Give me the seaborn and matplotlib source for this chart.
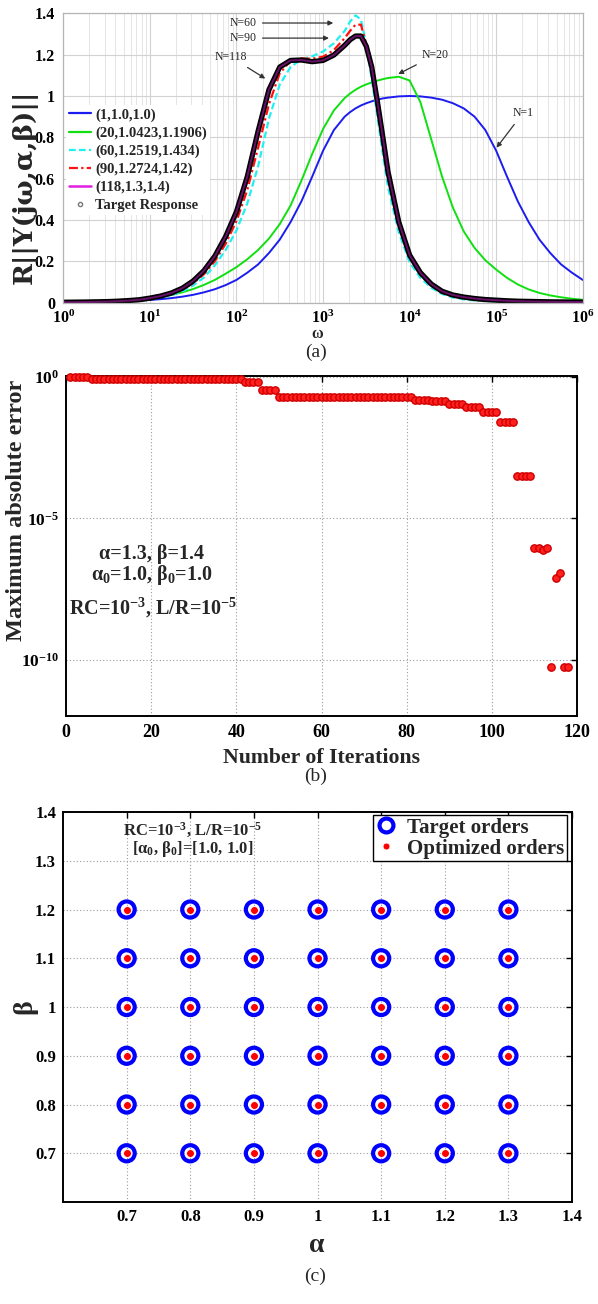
import numpy as np
import pandas as pd
import seaborn as sns
import matplotlib.pyplot as plt
from matplotlib.lines import Line2D
from matplotlib.ticker import LogLocator, NullLocator, FixedLocator, FixedFormatter, NullFormatter

# ---------------- PANEL (a) : |Y(jw)| (x given as log10 of omega)
log_w = [0, 0.125, 0.25, 0.375, 0.5, 0.625, 0.75, 0.875, 1.0, 1.125, 1.25, 1.375, 1.5, 1.625,
         1.75, 1.875, 2.0, 2.125, 2.25, 2.375, 2.5, 2.625, 2.75, 2.875, 3.0, 3.125, 3.25,
         3.3125, 3.375, 3.4375, 3.5, 3.5625, 3.625, 3.6875, 3.75, 3.875, 4.0, 4.125, 4.25,
         4.375, 4.5, 4.625, 4.75, 4.875, 5.0, 5.125, 5.25, 5.375, 5.5, 5.625, 5.75, 5.875, 6.0]

resp_n1 = [0.0015, 0.002, 0.0027, 0.0035, 0.0045, 0.006, 0.008, 0.010, 0.013, 0.017, 0.022, 0.029,
           0.038, 0.050, 0.065, 0.085, 0.11, 0.145, 0.185, 0.24, 0.305, 0.39, 0.49, 0.61, 0.735,
           0.835, 0.90,
           0.922, 0.94, 0.954, 0.965, 0.974, 0.982, 0.988, 0.992,
           0.998, 1.0, 0.998, 0.992, 0.982, 0.965, 0.94, 0.90, 0.835, 0.735, 0.61, 0.49, 0.39,
           0.305, 0.24, 0.185, 0.145, 0.11]

resp_n20 = [0.002, 0.0025, 0.0035, 0.0045, 0.006, 0.008, 0.011, 0.015, 0.020, 0.028, 0.037, 0.050,
            0.066, 0.086, 0.110, 0.140, 0.172, 0.21, 0.255, 0.31, 0.38, 0.47, 0.59, 0.72, 0.84,
            0.93, 0.99,
            1.012, 1.03, 1.045, 1.056, 1.066, 1.074, 1.081, 1.087,
            1.093, 1.075, 0.97, 0.79, 0.61, 0.46, 0.345, 0.265, 0.205, 0.16, 0.12, 0.088, 0.064,
            0.047, 0.035, 0.026, 0.019, 0.014]

resp_n60 = [0.002, 0.0024, 0.0029, 0.0036, 0.0045, 0.006, 0.0085, 0.012, 0.017, 0.025, 0.036, 0.055,
            0.083, 0.122, 0.18, 0.255, 0.35, 0.48, 0.66, 0.89, 1.055, 1.14, 1.178, 1.192, 1.215,
            1.255, 1.315,
            1.36, 1.39, 1.37, 1.25, 1.08, 0.91, 0.73, 0.56,
            0.34, 0.195, 0.12, 0.072, 0.042, 0.025, 0.016, 0.011, 0.009, 0.007, 0.006, 0.005,
            0.004, 0.0035, 0.003, 0.0025, 0.002, 0.002]

resp_n90 = [0.002, 0.0025, 0.003, 0.0038, 0.0048, 0.0065, 0.009, 0.013, 0.019, 0.028, 0.042, 0.063,
            0.094, 0.138, 0.20, 0.285, 0.395, 0.545, 0.75, 0.96, 1.11, 1.17, 1.182, 1.18, 1.19,
            1.222, 1.28,
            1.315, 1.345, 1.345, 1.25, 1.12, 0.95, 0.78, 0.605,
            0.37, 0.215, 0.135, 0.082, 0.048, 0.03, 0.02, 0.014, 0.011, 0.009, 0.007, 0.006,
            0.005, 0.004, 0.0035, 0.003, 0.0025, 0.002]

target_resp = [0.002, 0.0025, 0.003, 0.004, 0.005, 0.007, 0.010, 0.014, 0.022, 0.032, 0.047, 0.07,
               0.105, 0.155, 0.225, 0.32, 0.44, 0.61, 0.83, 1.03, 1.14, 1.172, 1.174, 1.166, 1.172,
               1.198, 1.245,
               1.272, 1.29, 1.29, 1.24, 1.14, 0.98, 0.81, 0.634,
               0.39, 0.23, 0.145, 0.09, 0.055, 0.037, 0.027, 0.02, 0.015, 0.012, 0.009, 0.007,
               0.006, 0.005, 0.004, 0.0035, 0.003, 0.0025]

resp_n118 = list(target_resp)     # N=118 SITS ON TOP OF THE TARGET

legend_a = ["(1,1.0,1.0)", "(20,1.0423,1.1906)", "(60,1.2519,1.434)", "(90,1.2724,1.42)",
            "(118,1.3,1.4)", "Target Response"]

# ---------------- PANEL (b) : MAX ABS ERROR PER ITERATION (step levels + how many iterations each)
err_levels = [1.0, 0.85, 0.65, 0.34, 0.2, 0.16, 0.14, 0.11, 0.085, 0.056, 0.025, 3.1e-4,
              9e-7, 9e-7, 7.4e-7, 9e-7, 5.4e-11, 7.9e-8, 1.2e-7, 5.4e-11, 5.4e-11]
err_counts = [5, 36, 4, 4, 32, 4, 4, 4, 4, 4, 4, 4, 1, 1, 1, 1, 1, 1, 1, 1, 1]

# ---------------- PANEL (c) : TARGET / OPTIMIZED ORDERS
alpha_vals = [0.7, 0.8, 0.9, 1.0, 1.1, 1.2, 1.3]
beta_vals = [0.7, 0.8, 0.9, 1.0, 1.1, 1.2]
opt_alpha = [0.7, 0.8, 0.9, 1.0, 1.1, 1.2, 1.3]
opt_beta = [0.7, 0.8, 0.9, 1.0, 1.1, 1.2]
ticks_c = [0.7, 0.8, 0.9, 1.0, 1.1, 1.2, 1.3, 1.4]
ticklabels_c = ["0.7", "0.8", "0.9", "1", "1.1", "1.2", "1.3", "1.4"]


sns.set_theme(style="white")
plt.rcParams["font.family"] = ["Liberation Serif", "DejaVu Serif"]
plt.rcParams["font.weight"] = "bold"
plt.rcParams["axes.labelweight"] = "bold"
plt.rcParams["mathtext.fontset"] = "custom"
plt.rcParams["mathtext.rm"] = "Liberation Serif:bold"
plt.rcParams["mathtext.bf"] = "Liberation Serif:bold"
plt.rcParams["mathtext.it"] = "Liberation Serif:bold"
plt.rcParams["mathtext.default"] = "bf"
plt.rcParams["axes.unicode_minus"] = False

fig = plt.figure(figsize=(5.98, 13.04), dpi=100)


#                                   (a)  FREQUENCY RESPONSE
omega = 10 ** np.array(log_w)
ax1 = fig.add_axes([0.1059, 0.7679, 0.8686, 0.2219])

sns.lineplot(x=omega, y=resp_n1, ax=ax1, color="#1c1cf0", lw=1.4, sort=False)
sns.lineplot(x=omega, y=resp_n20, ax=ax1, color="#10e010", lw=1.4, sort=False)
sns.lineplot(x=omega, y=resp_n60, ax=ax1, color="#20f0f0", lw=1.6, linestyle=(0, (3, 1.5)), sort=False)
sns.lineplot(x=omega, y=resp_n90, ax=ax1, color="#ff1010", lw=1.6, linestyle=(0, (4, 1.5, 1, 1.5)), sort=False)
sns.lineplot(x=omega, y=target_resp, ax=ax1, color="black", lw=3.8, sort=False)
sns.lineplot(x=omega, y=resp_n118, ax=ax1, color="#d020d0", lw=1.4, alpha=0.5, sort=False)

ax1.set_xscale("log")
ax1.set_xlim(1, 1e6)
ax1.set_ylim(0, 1.4)
ax1.xaxis.set_major_locator(FixedLocator([1e0, 1e1, 1e2, 1e3, 1e4, 1e5, 1e6]))
ax1.xaxis.set_minor_locator(LogLocator(base=10, subs=np.arange(2, 10), numticks=100))
ax1.xaxis.set_minor_formatter(NullFormatter())
ax1.yaxis.set_major_locator(FixedLocator([0, 0.2, 0.4, 0.6, 0.8, 1.0, 1.2, 1.4]))
ax1.yaxis.set_major_formatter(FixedFormatter(["0", "0.2", "0.4", "0.6", "0.8", "1", "1.2", "1.4"]))
ax1.grid(which="major", color="#d2d2d2", lw=0.8)
ax1.grid(which="minor", axis="x", color="#e0e0e0", lw=0.6)
for s in ax1.spines.values():
    s.set_color("#b5b5b5")
    s.set_linewidth(0.9)
ax1.tick_params(axis="both", which="major", labelsize=11.5, length=0, pad=6, colors="black")
ax1.tick_params(axis="x", which="major", pad=5)
ax1.tick_params(axis="both", which="minor", length=0, labelbottom=False, labelleft=False)
ax1.set_ylabel("R||Y(jω,α,β)||", fontsize=19, fontweight="bold", family="DejaVu Serif")
ax1.yaxis.set_label_coords(-0.05, 0.40)
ax1.set_xlabel("ω", fontsize=11.5, fontweight="bold")
ax1.xaxis.set_label_coords(0.488, -0.079)

handles_a = [Line2D([], [], color="#1c1cf0", lw=1.6),
             Line2D([], [], color="#10e010", lw=1.6),
             Line2D([], [], color="#20f0f0", lw=1.6, linestyle=(0, (3, 1.5))),
             Line2D([], [], color="#ff1010", lw=1.6, linestyle=(0, (4, 1.5, 1, 1.5))),
             Line2D([], [], color="#e020e0", lw=1.8),
             Line2D([], [], color="#777777", marker="o", ms=3, mfc="none", lw=0)]
ax1.legend(handles_a, legend_a, loc="upper left", bbox_to_anchor=(0.005, 0.682), fontsize=10.5,
           frameon=True, facecolor="white", edgecolor="none", framealpha=1, fancybox=False,
           borderpad=0.2, handlelength=1.5, handletextpad=0.3, labelspacing=0.32, borderaxespad=0)

arrow_kw = dict(arrowstyle="-|>", color="#333333", lw=0.9, mutation_scale=7)
note_kw = dict(fontsize=8.5, fontweight="normal", ha="center", va="center")
ax1.annotate("N=60", xy=(10 ** 3.15, 1.353), xytext=(10 ** 2.075, 1.353), arrowprops=arrow_kw, **note_kw)
ax1.annotate("N=90", xy=(10 ** 3.10, 1.28), xytext=(10 ** 2.075, 1.28), arrowprops=arrow_kw, **note_kw)
ax1.annotate("N=118", xy=(10 ** 2.36, 1.077), xytext=(10 ** 1.93, 1.19), arrowprops=arrow_kw, **note_kw)
ax1.annotate("N=20", xy=(10 ** 3.84, 1.10), xytext=(10 ** 4.30, 1.198), arrowprops=arrow_kw, **note_kw)
ax1.annotate("N=1", xy=(10 ** 4.985, 0.739), xytext=(10 ** 5.31, 0.918), arrowprops=arrow_kw, **note_kw)


#                                   (b)  CONVERGENCE
err = np.repeat(err_levels, err_counts)
iterations = np.arange(1, len(err) + 1)
ax2 = fig.add_axes([0.1104, 0.4509, 0.8545, 0.2607])
sns.scatterplot(x=iterations, y=err, ax=ax2, marker="o", s=28, color="#ff2020",
                edgecolor="#d00000", linewidth=1.0, clip_on=False, zorder=3)
ax2.set_yscale("log")
ax2.set_xlim(0, 120)
ax2.set_ylim(1e-12, 1.08)
ax2.set_xticks([0, 20, 40, 60, 80, 100, 120])
ax2.yaxis.set_major_locator(FixedLocator([1e-10, 1e-5, 1e0]))
ax2.yaxis.set_minor_locator(NullLocator())
ax2.grid(True, color="#9a9a9a", lw=0.8, linestyle=(0, (1, 2)))
for s in ax2.spines.values():
    s.set_color("black")
    s.set_linewidth(1.4)
ax2.tick_params(axis="both", which="major", direction="in", length=4, width=1, labelsize=13,
                top=True, right=True, pad=6, colors="black")
ax2.tick_params(axis="y", which="major", labelsize=12.5, pad=5)
ax2.set_xlabel("Number of Iterations", fontsize=15.7, fontweight="bold")
ax2.xaxis.set_label_coords(0.5, -0.094)
ax2.set_ylabel("Maximum absolute error", fontsize=17.5, fontweight="bold")
ax2.yaxis.set_label_coords(-0.076, 0.606)
txt_kw = dict(transform=ax2.transAxes, ha="center", va="center", fontsize=14.5, fontweight="bold")
ax2.text(0.168, 0.478, "α=1.3, β=1.4", **txt_kw)
ax2.text(0.168, 0.416, "α$_0$=1.0, β$_0$=1.0", **txt_kw)
ax2.text(0.170, 0.318, "RC=10$^{-3}$, L/R=10$^{-5}$", **txt_kw)


#                                   (c)  TARGET vs OPTIMIZED ORDERS
target_df = pd.DataFrame([(a, b) for a in alpha_vals for b in beta_vals], columns=["alpha", "beta"])
opt_df = pd.DataFrame([(a, b) for a in opt_alpha for b in opt_beta], columns=["alpha", "beta"])

ax3 = fig.add_axes([0.1054, 0.0782, 0.8512, 0.2991])
sns.scatterplot(data=target_df, x="alpha", y="beta", ax=ax3, marker="o", s=135,
                facecolor="none", edgecolor="#0000ff", linewidth=3.0, zorder=3)
sns.scatterplot(data=opt_df, x="alpha", y="beta", ax=ax3, marker="o", s=32,
                color="#ff0000", edgecolor="white", linewidth=0.6, zorder=4)
ax3.set_xlim(0.6, 1.4)
ax3.set_ylim(0.6, 1.4)
ax3.set_xticks(ticks_c)
ax3.set_xticklabels(ticklabels_c)
ax3.set_yticks(ticks_c)
ax3.set_yticklabels(ticklabels_c)
ax3.grid(True, color="#9a9a9a", lw=0.8, linestyle=(0, (1, 2)))
for s in ax3.spines.values():
    s.set_color("black")
    s.set_linewidth(1.4)
ax3.tick_params(axis="both", which="major", direction="in", length=4, width=1, labelsize=12,
                top=True, right=True, pad=5, colors="black")
ax3.set_xlabel("α", fontsize=20, fontweight="bold")
ax3.xaxis.set_label_coords(0.498, -0.08)
ax3.set_ylabel("β", fontsize=20, fontweight="bold")
ax3.yaxis.set_label_coords(-0.051, 0.5)
ax3.text(0.255, 0.953, "RC=10$^{-3}$, L/R=10$^{-5}$", transform=ax3.transAxes,
         ha="center", va="center", fontsize=12, fontweight="bold")
ax3.text(0.255, 0.905, "[α$_0$, β$_0$]=[1.0, 1.0]", transform=ax3.transAxes,
         ha="center", va="center", fontsize=12, fontweight="bold")

handles_c = [Line2D([], [], lw=0, marker="o", ms=10, mfc="none", mec="#0000ff", mew=3.0),
             Line2D([], [], lw=0, marker="o", ms=5, mfc="#ff0000", mec="white", mew=0.6)]
ax3.legend(handles_c, ["Target orders", "Optimized orders"], loc="upper right",
           bbox_to_anchor=(0.99, 0.992), fontsize=15, frameon=True, facecolor="white",
           edgecolor="black", framealpha=1, fancybox=False, borderpad=0.12,
           handlelength=1.0, handletextpad=0.5, labelspacing=0.05, borderaxespad=0)
ax3.get_legend().get_frame().set_linewidth(1.0)

fig.text(0.528, 0.7300, "(a)", ha="center", va="center", fontsize=14, fontweight="normal")
fig.text(0.527, 0.4050, "(b)", ha="center", va="center", fontsize=14, fontweight="normal")
fig.text(0.527, 0.0215, "(c)", ha="center", va="center", fontsize=14, fontweight="normal")

plt.savefig("out.png", dpi=100)
